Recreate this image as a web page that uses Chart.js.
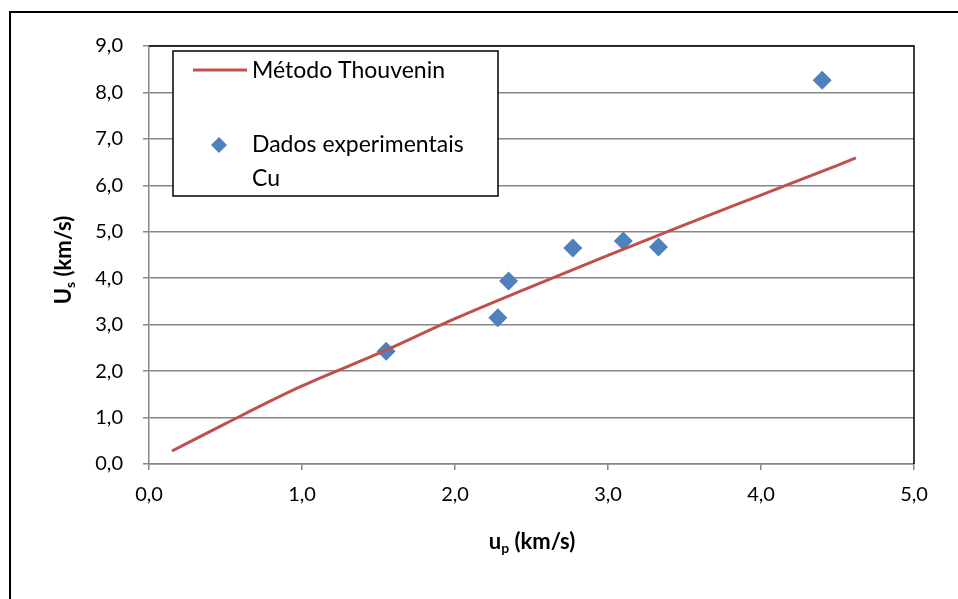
<!DOCTYPE html>
<html>
<head>
<meta charset="utf-8">
<script src="https://cdn.jsdelivr.net/npm/chart.js@4"></script>
<style>
  html, body { margin: 0; padding: 0; background: #fff; }
  #wrap { width: 958px; height: 599px; position: relative; }
</style>
</head>
<body>
<div id="wrap"><canvas id="grafico" width="958" height="599"></canvas></div>
<script>
// curva do metodo Thouvenin
const upModelo = [0.15, 0.5, 1.0, 1.5, 2.0, 2.5, 3.0, 3.5, 4.0, 4.5, 4.62];
const usModelo = [0.28, 0.87, 1.68, 2.38, 3.13, 3.82, 4.49, 5.15, 5.79, 6.43, 6.59];

// dados experimentais Cu
const upExp = [1.55, 2.28, 2.35, 2.77, 3.10, 3.33, 4.40];
const usExp = [2.43, 3.15, 3.94, 4.65, 4.80, 4.67, 8.26];

const labelModelo = 'Método Thouvenin';
const labelExp = ['Dados experimentais', 'Cu'];

const xTicks = [0, 1, 2, 3, 4, 5];
const yTicks = [0, 1, 2, 3, 4, 5, 6, 7, 8, 9];

const fonte = 'Lato, "Open Sans", sans-serif';
const cinza = '#868686';
const vermelho = '#C0504D';
const azul = '#4F81BD';

const virgula = v => Number(v).toFixed(1).replace('.', ',');

// desenha texto com subscrito centrado em (0,0) do contexto atual
function textoSub(ctx, base, sub, resto) {
  const fG = 'bold 22px ' + fonte, fP = 'bold 14px ' + fonte;
  ctx.font = fG;
  const w1 = ctx.measureText(base).width;
  const w3 = ctx.measureText(resto).width;
  ctx.font = fP;
  const w2 = ctx.measureText(sub).width;
  let x = -(w1 + w2 + w3) / 2;
  ctx.textBaseline = 'alphabetic';
  ctx.textAlign = 'left';
  ctx.fillStyle = '#000';
  ctx.font = fG;
  ctx.fillText(base, x, 8);
  x += w1;
  ctx.font = fP;
  ctx.fillText(sub, x, 12);
  x += w2;
  ctx.font = fG;
  ctx.fillText(resto, x, 8);
}

const extras = {
  id: 'extras',
  beforeDraw(chart) {
    const ctx = chart.ctx;
    ctx.save();
    ctx.fillStyle = '#fff';
    ctx.fillRect(0, 0, chart.width, chart.height);
    // moldura externa
    ctx.strokeStyle = '#000';
    ctx.lineWidth = 2;
    ctx.beginPath();
    ctx.moveTo(10, chart.height);
    ctx.lineTo(10, 12);
    ctx.lineTo(chart.width, 12);
    ctx.stroke();
    ctx.restore();
  },
  afterDraw(chart) {
    const ctx = chart.ctx;
    const a = chart.chartArea;
    ctx.save();
    // borda superior e direita da area do grafico
    ctx.strokeStyle = '#000';
    ctx.lineWidth = 1.5;
    ctx.beginPath();
    ctx.moveTo(a.left, a.top);
    ctx.lineTo(a.right, a.top);
    ctx.lineTo(a.right, a.bottom);
    ctx.stroke();

    // titulos dos eixos
    ctx.save();
    ctx.translate(532, 541);
    textoSub(ctx, 'u', 'p', ' (km/s)');
    ctx.restore();
    ctx.save();
    ctx.translate(63, 260);
    ctx.rotate(-Math.PI / 2);
    textoSub(ctx, 'U', 's', ' (km/s)');
    ctx.restore();

    // legenda
    const lx = 173, ly = 51, lw = 325, lh = 145;
    ctx.fillStyle = '#fff';
    ctx.fillRect(lx, ly, lw, lh);
    ctx.strokeStyle = '#000';
    ctx.lineWidth = 1.5;
    ctx.strokeRect(lx, ly, lw, lh);

    const dsL = chart.data.datasets[0];
    const dsP = chart.data.datasets[1];
    ctx.strokeStyle = dsL.borderColor;
    ctx.lineWidth = 3;
    ctx.beginPath();
    ctx.moveTo(193, 70);
    ctx.lineTo(247, 70);
    ctx.stroke();

    ctx.fillStyle = dsP.backgroundColor;
    ctx.beginPath();
    ctx.moveTo(219, 137);
    ctx.lineTo(227, 145);
    ctx.lineTo(219, 153);
    ctx.lineTo(211, 145);
    ctx.closePath();
    ctx.fill();

    ctx.fillStyle = '#000';
    ctx.font = '23px ' + fonte;
    ctx.textAlign = 'left';
    ctx.textBaseline = 'middle';
    ctx.fillText(dsL.label, 252, 71);
    ctx.fillText(labelExp[0], 252, 145);
    ctx.fillText(labelExp[1], 252, 179);
    ctx.restore();
  }
};

new Chart(document.getElementById('grafico'), {
  type: 'scatter',
  data: {
    datasets: [
      {
        label: labelModelo,
        data: upModelo.map((x, i) => ({ x: x, y: usModelo[i] })),
        showLine: true,
        borderColor: vermelho,
        borderWidth: 3,
        pointRadius: 0,
        cubicInterpolationMode: 'monotone',
        fill: false
      },
      {
        label: labelExp.join(' '),
        data: upExp.map((x, i) => ({ x: x, y: usExp[i] })),
        backgroundColor: azul,
        borderColor: azul,
        pointStyle: 'rectRot',
        pointRadius: 9.5,
        pointBorderWidth: 0
      }
    ]
  },
  options: {
    responsive: false,
    animation: false,
    layout: { padding: { left: 0, top: 46, right: 44, bottom: 0 } },
    plugins: { legend: { display: false }, tooltip: { enabled: false } },
    scales: {
      x: {
        type: 'linear',
        min: 0, max: 5,
        afterBuildTicks: s => { s.ticks = xTicks.map(v => ({ value: v })); },
        afterFit: s => { s.height = 599 - 464; },
        ticks: {
          callback: virgula,
          color: '#000',
          font: { family: fonte, size: 20 },
          padding: 13,
          maxRotation: 0
        },
        grid: { drawOnChartArea: false, drawTicks: true, tickLength: 6, color: cinza, lineWidth: 1.5 },
        border: { color: cinza, width: 1.5 }
      },
      y: {
        type: 'linear',
        min: 0, max: 9,
        afterBuildTicks: s => { s.ticks = yTicks.map(v => ({ value: v })); },
        afterFit: s => { s.width = 149; },
        ticks: {
          callback: virgula,
          color: '#000',
          font: { family: fonte, size: 20 },
          padding: 20
        },
        grid: { drawOnChartArea: true, drawTicks: true, tickLength: 6, color: cinza, lineWidth: 1.5 },
        border: { color: cinza, width: 1.5 }
      }
    }
  },
  plugins: [extras]
});
</script>
</body>
</html>
